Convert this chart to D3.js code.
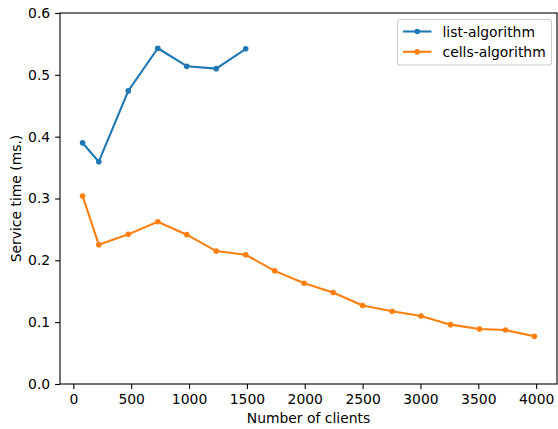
<!DOCTYPE html>
<html>
<head>
<meta charset="utf-8">
<script src="https://cdn.jsdelivr.net/npm/d3@7"></script>
<style>
  body { margin: 0; background: #fff; }
  svg { display: block; font-family: "DejaVu Sans", sans-serif; }
</style>
</head>
<body>
<svg id="chart" width="558" height="429"></svg>
<script>
// data
const listClients = [80, 220, 475, 730, 980, 1235, 1490];
const listTimes = [0.390, 0.3595, 0.474, 0.543, 0.514, 0.510, 0.542];
const cellsClients = [80, 220, 475, 730, 980, 1235, 1490, 1740, 1995, 2245, 2500, 2755, 3005, 3260, 3510, 3735, 3985];
const cellsTimes = [0.304, 0.2253, 0.242, 0.2625, 0.2415, 0.215, 0.209, 0.183, 0.163, 0.148, 0.127, 0.1176, 0.110, 0.096, 0.089, 0.0873, 0.0771];
const xTicks = [0, 500, 1000, 1500, 2000, 2500, 3000, 3500, 4000];
const yTicks = [0.0, 0.1, 0.2, 0.3, 0.4, 0.5, 0.6];
const seriesNames = ["list-algorithm", "cells-algorithm"];
const seriesColors = ["#1f77b4", "#ff7f0e"];

const svg = d3.select("#chart");
const margin = { left: 60, top: 13, right: 1, bottom: 45 };
const W = 558, H = 429;
const pw = W - margin.left - margin.right, ph = H - margin.top - margin.bottom;
const fontSize = "13.9px";

const xMin = d3.min(cellsClients), xMax = d3.max(cellsClients), pad = (xMax - xMin) * 0.05;
const x = d3.scaleLinear().domain([xMin - pad, xMax + pad]).range([margin.left, margin.left + pw]);
const y = d3.scaleLinear().domain([0, 0.6]).range([margin.top + ph, margin.top]);

const series = [
  { name: seriesNames[0], color: seriesColors[0], pts: listClients.map((c, i) => [c, listTimes[i]]) },
  { name: seriesNames[1], color: seriesColors[1], pts: cellsClients.map((c, i) => [c, cellsTimes[i]]) }
];

const line = d3.line().x(d => x(d[0])).y(d => y(d[1]));
series.forEach(s => {
  const g = svg.append("g");
  g.append("path").attr("d", line(s.pts)).attr("fill", "none").attr("stroke", s.color).attr("stroke-width", 2.1).attr("stroke-linejoin", "round").attr("stroke-linecap", "square");
  g.selectAll("circle").data(s.pts).join("circle").attr("cx", d => x(d[0])).attr("cy", d => y(d[1])).attr("r", 2.8).attr("fill", s.color);
});

// axes
const xAxis = svg.append("g").attr("transform", `translate(0,${margin.top + ph})`)
  .call(d3.axisBottom(x).tickValues(xTicks).tickFormat(d3.format("d")).tickSize(4.9).tickPadding(4.9));
const yAxis = svg.append("g").attr("transform", `translate(${margin.left},0)`)
  .call(d3.axisLeft(y).tickValues(yTicks).tickFormat(d3.format(".1f")).tickSize(4.9).tickPadding(4.9));
[xAxis, yAxis].forEach(a => {
  a.select(".domain").remove();
  a.selectAll("line").attr("stroke", "#000").attr("stroke-width", 1.1);
  a.selectAll("text").attr("fill", "#000").style("font-size", fontSize).style("font-family", "DejaVu Sans");
});

// spines
svg.append("rect").attr("x", margin.left).attr("y", margin.top).attr("width", pw).attr("height", ph)
  .attr("fill", "none").attr("stroke", "#000").attr("stroke-width", 1.1);

svg.append("text").attr("x", margin.left + pw / 2).attr("y", 423).attr("text-anchor", "middle")
  .style("font-size", fontSize).text("Number of clients");
svg.append("text").attr("transform", `translate(21,${margin.top + ph / 2}) rotate(-90)`).attr("text-anchor", "middle")
  .style("font-size", fontSize).text("Service time (ms.)");

// legend
const lg = svg.append("g");
lg.append("rect").attr("x", 397.5).attr("y", 19.5).attr("width", 154).attr("height", 45.5).attr("rx", 2.8)
  .attr("fill", "#fff").attr("fill-opacity", 0.8).attr("stroke", "#cccccc").attr("stroke-width", 1.1);
series.forEach((s, i) => {
  const ly = 31.5 + i * 20.3;
  lg.append("line").attr("x1", 403).attr("x2", 431.5).attr("y1", ly).attr("y2", ly).attr("stroke", s.color).attr("stroke-width", 2.1);
  lg.append("circle").attr("cx", 417.3).attr("cy", ly).attr("r", 2.8).attr("fill", s.color);
  lg.append("text").attr("x", 442.5).attr("y", ly).attr("dy", "0.36em").style("font-size", fontSize).text(s.name);
});
</script>
</body>
</html>
